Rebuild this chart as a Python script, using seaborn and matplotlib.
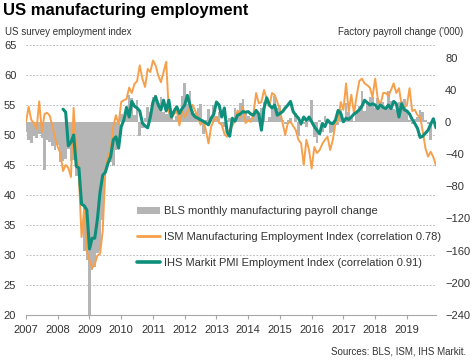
import numpy as np
import pandas as pd
import matplotlib
matplotlib.use("Agg")
import matplotlib.pyplot as plt
import seaborn as sns

# ---------------- data ----------------
years = list(range(2007, 2020))

ism = [
    52.2, 54.7, 52.5, 52.0, 51.0, 55.6, 50.5, 53.5, 53.7, 53.2, 51.5, 49.5,  # 2007
    48.0, 47.0, 44.0, 45.0, 44.5, 43.0, 54.5, 47.5, 43.0, 33.0, 37.8, 30.6,  # 2008
    29.2, 27.8, 28.5, 29.9, 30.2, 34.0, 44.0, 46.5, 47.5, 51.4, 53.3, 51.8,  # 2009
    55.5, 55.8, 56.0, 57.9, 57.0, 58.5, 59.0, 61.6, 59.4, 58.0, 61.0, 60.5,  # 2010
    62.4, 61.6, 59.9, 58.8, 60.5, 62.2, 53.9, 52.8, 53.5, 54.0, 51.6, 54.0,  # 2011
    53.0, 53.8, 54.5, 55.0, 54.0, 53.0, 51.7, 52.4, 50.8, 48.6, 51.4, 52.4,  # 2012
    53.0, 52.0, 51.7, 50.2, 49.7, 51.0, 51.5, 52.4, 54.1, 53.0, 54.7, 52.0,  # 2013
    52.4, 52.2, 53.6, 57.0, 55.3, 55.5, 57.5, 56.0, 54.8, 57.0, 56.7, 55.5,  # 2014
    54.2, 52.0, 50.0, 52.0, 52.2, 51.5, 50.8, 49.2, 48.6, 45.0, 49.2, 47.5,  # 2015
    44.4, 48.0, 47.0, 47.5, 48.5, 49.2, 49.7, 47.5, 49.2, 52.0, 52.4, 55.5,  # 2016
    54.2, 58.6, 53.9, 56.7, 53.6, 56.5, 59.0, 59.4, 58.6, 58.3, 57.9, 56.3,  # 2017
    59.4, 56.0, 55.0, 57.0, 57.0, 56.5, 57.5, 58.6, 57.0, 57.8, 55.0, 54.5,  # 2018
    55.0, 57.8, 54.0, 54.2, 53.3, 53.0, 50.6, 47.8, 46.4, 47.2, 46.3, 44.9,  # 2019
]

# IHS Markit PMI employment index, starts March 2008
pmi_start = 14
pmi = [
    54.3, 53.8, 48.2, 48.8, 50.0, 44.8, 44.5, 38.5, 38.2, 37.5,              # 2008 (Mar-Dec)
    31.0, 32.8, 32.8, 36.0, 40.5, 43.3, 43.8, 45.3, 46.4, 49.2, 49.7, 47.8,  # 2009
    51.4, 52.5, 54.6, 53.0, 55.6, 54.8, 54.5, 54.0, 52.0, 51.5, 51.2, 53.0,  # 2010
    55.5, 56.4, 55.0, 54.2, 55.8, 54.0, 55.8, 53.0, 54.0, 54.7, 53.6, 54.4,  # 2011
    55.0, 56.6, 55.0, 53.5, 53.0, 52.8, 52.5, 52.3, 52.0, 51.7, 52.8, 53.5,  # 2012
    55.5, 55.0, 53.0, 54.5, 50.5, 49.8, 52.8, 52.3, 53.3, 53.5, 53.9, 53.8,  # 2013
    53.9, 53.5, 53.3, 54.1, 53.5, 50.8, 54.5, 56.2, 55.0, 54.5, 55.0, 53.3,  # 2014
    53.6, 53.9, 54.5, 55.0, 55.6, 53.9, 53.3, 52.8, 51.9, 53.0, 52.4, 53.0,  # 2015
    52.2, 51.4, 50.8, 50.2, 51.9, 51.4, 52.5, 52.0, 51.9, 52.5, 54.1, 53.6,  # 2016
    52.2, 52.8, 52.6, 53.0, 53.5, 53.8, 54.2, 54.8, 55.8, 55.4, 55.0, 55.2,  # 2017
    55.0, 54.4, 55.0, 54.6, 54.4, 55.0, 54.4, 55.6, 55.2, 53.0, 55.2, 54.2,  # 2018
    54.0, 53.5, 52.6, 51.9, 51.1, 49.6, 49.8, 50.3, 50.8, 51.8, 52.7, 51.2,  # 2019
]

# BLS monthly manufacturing payroll change ('000)
bls = [
    -12, -22, -26, -18, -20, -15, -20, -60, -22, -25, -30, -35,       # 2007
    -28, -50, -48, -46, -34, -48, -47, -67, -80, -104, -160, -172,    # 2008
    -260, -184, -180, -163, -160, -122, -62, -55, -50, -55, -35, -25, # 2009
    10, 2, 18, 33, 30, 9, 27, -17, -7, 5, 19, 12,                     # 2010
    31, 33, 24, 31, 13, 10, 29, 5, 2, 8, 14, 32,                      # 2011
    48, 23, 38, 14, 11, 18, 22, -15, 2, 16, 5, 21,                    # 2012
    7, 12, -3, -6, 2, 5, -2, 17, 13, 24, 29, 11,                      # 2013
    8, 5, 8, 11, 11, 18, 25, 1, 6, 20, 32, 17,                        # 2014
    21, 3, -2, 3, 5, 0, 11, -17, -5, -2, -6, 2,                       # 2015
    27, -19, -26, 2, -13, 8, 3, -14, -12, -4, -4, 16,                 # 2016
    1, 24, 12, 5, 1, 11, 20, 38, 14, 22, 31, 31,                      # 2017
    18, 30, 17, 25, 19, 38, 26, 16, 15, 25, 26, 28,                   # 2018
    14, 3, -2, 4, 6, 15, 13, 2, -3, -22, 5, -5,                       # 2019
]

left_ticks = [20, 25, 30, 35, 40, 45, 50, 55, 60, 65]
right_ticks = [-240, -200, -160, -120, -80, -40, 0, 40, 80]

lab_bls = "BLS monthly manufacturing payroll change"
lab_ism = "ISM Manufacturing Employment Index (correlation 0.78)"
lab_pmi = "IHS Markit PMI Employment Index (correlation 0.91)"

# ---------------- frames ----------------
t = [y + m / 12 for y in years for m in range(12)]
df = pd.DataFrame({"t": t, "ism": ism, "bls": bls})
df_pmi = pd.DataFrame({"t": t[pmi_start:], "pmi": pmi})

# ---------------- style ----------------
sns.set_theme(style="white")
plt.rcParams["font.family"] = ["Liberation Sans", "DejaVu Sans"]

C_ORANGE = "#F7A04C"
C_TEAL = "#0E8F7C"
C_GRAY = "#B5B5B5"
C_TXT = "#333333"

fig = plt.figure(figsize=(4.75, 3.63), dpi=100)
ax = fig.add_axes([26 / 475, 1 - 315 / 363, 410 / 475, 270 / 363])
ax_bar = ax.twinx()
ax_line = ax.twinx()

sns.barplot(data=df, x="t", y="bls", native_scale=True, width=1.0,
            color=C_GRAY, saturation=1, linewidth=0, errorbar=None,
            label=lab_bls, ax=ax_bar)
sns.lineplot(data=df, x="t", y="ism", color=C_ORANGE, linewidth=1.4,
             label=lab_ism, ax=ax_line)
sns.lineplot(data=df_pmi, x="t", y="pmi", color=C_TEAL, linewidth=2.2,
             label=lab_pmi, ax=ax_line)

for a in (ax, ax_bar, ax_line):
    lg = a.get_legend()
    if lg is not None:
        lg.remove()
    a.set_xlabel("")
    a.set_ylabel("")
    for s in a.spines.values():
        s.set_visible(False)

x0, x1 = t[0], t[-1]
ax.set_xlim(x0, x1)
ax.set_ylim(20, 65)
ax_line.set_ylim(20, 65)
ax_bar.set_ylim(-240, 95.75)

# left axis
ax.set_yticks(left_ticks)
ax.tick_params(axis="y", left=False, length=0, labelsize=8, colors=C_TXT, pad=7)
ax.yaxis.grid(True, linestyle=(0, (2, 2)), color="#AFAFAF", linewidth=0.6)
ax.xaxis.grid(False)
ax.spines["bottom"].set_visible(True)
ax.spines["bottom"].set_color("#A6A6A6")
ax.spines["bottom"].set_linewidth(0.8)
ax.set_xticks(years)
ax.set_xticklabels([str(y) for y in years])
ax.tick_params(axis="x", bottom=True, length=3, width=0.8, color="#A6A6A6",
               labelsize=8, labelcolor=C_TXT, pad=4)

# right axis
ax_bar.set_yticks(right_ticks)
ax_bar.tick_params(axis="y", right=False, length=0, labelsize=8, colors=C_TXT, pad=6.5)
ax_bar.yaxis.grid(False)
ax_bar.xaxis.grid(False)
ax_line.yaxis.set_visible(False)
ax_line.grid(False)
ax_line.tick_params(axis="x", bottom=False, labelbottom=False)
ax_bar.tick_params(axis="x", bottom=False, labelbottom=False)

# legend
h1, l1 = ax_bar.get_legend_handles_labels()
h2, l2 = ax_line.get_legend_handles_labels()
leg = ax_line.legend(h1 + h2, l1 + l2, loc="upper left",
                     bbox_to_anchor=(137 / 475, 1 - 206 / 363),
                     bbox_transform=fig.transFigure, frameon=False,
                     fontsize=8, handlelength=2.1, handletextpad=0.35,
                     labelspacing=1.45, borderpad=0, borderaxespad=0)
for txt in leg.get_texts():
    txt.set_color(C_TXT)
leg.legend_handles[0].set_height(5)
leg.legend_handles[1].set_linewidth(2.0)
leg.legend_handles[2].set_linewidth(2.6)

# titles and notes
fig.text(3 / 475, 1 - 15 / 363, "US manufacturing employment", fontsize=12,
         fontweight="bold", color="black", va="baseline", ha="left")
fig.text(5 / 475, 1 - 35 / 363, "US survey employment index", fontsize=7,
         color=C_TXT, va="baseline", ha="left")
fig.text(463 / 475, 1 - 35 / 363, "Factory payroll change ('000)", fontsize=7,
         color=C_TXT, va="baseline", ha="right")
fig.text(466 / 475, 1 - 355 / 363, "Sources: BLS, ISM, IHS Markit.", fontsize=7,
         color=C_TXT, va="baseline", ha="right")

fig.savefig("out.png", dpi=100, facecolor="white")
